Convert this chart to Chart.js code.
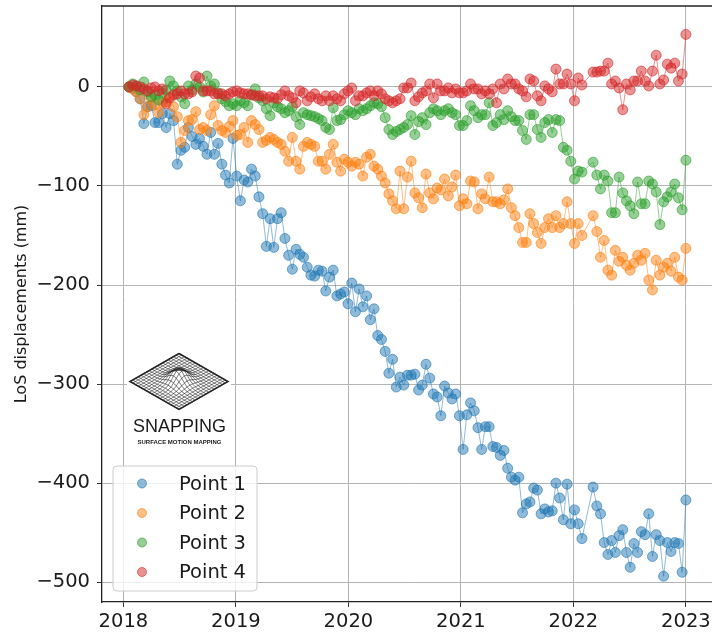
<!DOCTYPE html>
<html>
<head>
<meta charset="utf-8">
<title>LoS displacements</title>
<script src="https://cdn.jsdelivr.net/npm/chart.js@4.4.1/dist/chart.umd.min.js"></script>
<style>
  html, body { margin: 0; padding: 0; background: #fff; overflow: hidden; }
  #wrap { width: 712px; height: 634px; overflow: hidden; }
</style>
</head>
<body>
<div id="wrap"><canvas id="myChart" width="740" height="634"></canvas></div>
<script>
// acquisition dates (decimal years)
const dates = [
  2018.05, 2018.083, 2018.116, 2018.149, 2018.182, 2018.215, 2018.248, 2018.281, 2018.314, 2018.347,
  2018.38, 2018.413, 2018.446, 2018.479, 2018.512, 2018.545, 2018.578, 2018.611, 2018.644, 2018.677,
  2018.71, 2018.743, 2018.776, 2018.809, 2018.842, 2018.875, 2018.908, 2018.941, 2018.974, 2019.007,
  2019.04, 2019.073, 2019.106, 2019.139, 2019.172, 2019.205, 2019.238, 2019.271, 2019.304, 2019.337,
  2019.37, 2019.403, 2019.436, 2019.469, 2019.502, 2019.535, 2019.568, 2019.601, 2019.634, 2019.667,
  2019.70, 2019.733, 2019.766, 2019.799, 2019.832, 2019.865, 2019.898, 2019.931, 2019.964, 2019.997,
  2020.03, 2020.063, 2020.096, 2020.129, 2020.162, 2020.195, 2020.228, 2020.261, 2020.294, 2020.327,
  2020.36, 2020.393, 2020.426, 2020.459, 2020.492, 2020.525, 2020.558, 2020.591, 2020.624, 2020.657,
  2020.69, 2020.723, 2020.756, 2020.789, 2020.822, 2020.855, 2020.888, 2020.921, 2020.954, 2020.987,
  2021.02, 2021.053, 2021.086, 2021.119, 2021.152, 2021.185, 2021.218, 2021.251, 2021.284, 2021.317,
  2021.35, 2021.383, 2021.416, 2021.449, 2021.482, 2021.515, 2021.548, 2021.581, 2021.614, 2021.647,
  2021.68, 2021.713, 2021.746, 2021.779, 2021.812, 2021.845, 2021.878, 2021.911, 2021.944, 2021.977,
  2022.01, 2022.043, 2022.076,
  2022.175, 2022.208, 2022.241, 2022.274, 2022.307, 2022.34, 2022.373, 2022.406, 2022.439, 2022.472,
  2022.505, 2022.538, 2022.571, 2022.604, 2022.637, 2022.67, 2022.703, 2022.736, 2022.769, 2022.802,
  2022.835, 2022.868, 2022.901, 2022.934, 2022.967, 2023.00
];

const point1 = [
  0, -1, -5, -12, -37, -20, -19, -36, -36, -27, -41, -27, -34,
  -78, -64, -61, -41, -50, -58, -52, -60, -68, -46,
  -68, -57, -78, -89, -97, -52, -90, -115, -94, -96,
  -83, -90, -111, -128, -161, -133, -162, -133, -127, -153,
  -170, -184, -164, -169, -172, -182, -190, -191, -185, -186,
  -206, -192, -185, -211, -209, -207, -219, -198, -227, -204,
  -222, -211, -235, -224, -251, -255, -267, -289, -275, -303,
  -293, -301, -291, -291, -290, -306, -301, -280, -294, -310,
  -313, -332, -302, -309, -315, -310, -332, -366, -331, -319,
  -327, -344, -366, -343, -343, -363, -364, -372, -367, -385,
  -394, -397, -394, -430, -421, -419, -405, -407, -431, -426,
  -429, -428, -400, -415, -437, -401, -441, -427, -441, -456,
  -404, -423, -431, -460, -472, -458, -470, -453, -447, -470,
  -485, -461, -470, -449, -452, -431, -474, -452, -458, -494,
  -460, -469, -460, -461, -490, -417
];

const point2 = [
  0, -2, -5, -12, -28, -20, -11, -18, -26, -16, -15, -10, -20,
  -30, -56, -44, -34, -33, -25, -43, -41, -44, -28,
  -19, -39, -44, -46, -40, -34, -49, -48, -41, -56,
  -34, -38, -43, -56, -54, -51, -53, -56, -58, -65,
  -75, -51, -75, -83, -60, -56, -58, -60, -75, -75,
  -83, -68, -58, -76, -85, -73, -76, -80, -76, -78,
  -90, -71, -68, -80, -83, -90, -97, -108, -115, -123,
  -85, -123, -91, -75, -107, -112, -122, -88, -107, -113,
  -102, -104, -93, -110, -101, -89, -120, -113, -118, -95,
  -96, -123, -108, -113, -91, -116, -116, -118, -114, -103,
  -122, -130, -142, -157, -157, -128, -138, -147, -158, -142,
  -133, -142, -130, -142, -138, -116, -138, -158, -138, -150,
  -130, -146, -172, -155, -185, -190, -165, -176, -172, -180,
  -185, -178, -170, -175, -168, -195, -205, -175, -190, -182,
  -178, -186, -172, -192, -195, -163
];

const point3 = [
  0, 3, 1, -3, 5, -5, -10, -8, -13, -6, -3, 6, 1,
  -4, -10, -17, 1, -3, 3, 0, -5, 11, 1,
  3, -6, -12, -15, -19, -17, -19, -14, -16, -19,
  -8, -2, -11, -14, -22, -29, -16, -20, -22, -26,
  -24, -20, -30, -38, -26, -28, -29, -30, -32, -34,
  -41, -43, -21, -34, -33, -28, -24, -26, -28, -22,
  -24, -22, -19, -16, -17, -20, -31, -43, -48, -45,
  -43, -41, -38, -29, -48, -35, -31, -38, -26, -22,
  -24, -28, -24, -22, -26, -28, -39, -39, -34, -19,
  -24, -31, -28, -28, -16, -39, -36, -28, -33, -24,
  -30, -34, -34, -44, -53, -28, -28, -43, -51, -36,
  -33, -46, -33, -34, -61, -64, -75, -93, -85, -86,
  -76, -89, -103, -89, -95, -127, -127, -91, -107, -115,
  -120, -128, -96, -118, -118, -95, -98, -106, -139, -116,
  -111, -106, -98, -112, -124, -74
];

const point4 = [
  0, 2, 1, 0, -2, -4, -1, 0, -4, -2, -17, -11, -8,
  -7, -4, -7, -7, -5, 11, 9, -4, -4, -4,
  -7, -7, -7, -9, -7, -5, -4, -6, -7, -7,
  -8, -9, -9, -9, -12, -10, -11, -12, -8, -4,
  -9, -11, -16, -4, -6, -14, -10, -7, -12, -14,
  -9, -14, -9, -12, -14, -7, -4, -1, -14, -9,
  -9, -6, -4, -9, -4, -7, -12, -14, -16, -14,
  -12, -1, -1, 4, -14, -10, -6, -4, 3, -11,
  3, -4, -4, -1, -6, -2, -6, -6, -4, 3,
  -2, -2, -7, -4, -7, -2, -16, 3, -2, 8,
  3, 3, -2, -4, -10, 8, 6, -9, -14, 1,
  -2, -5, 18, 3, 3, 13, 3, -14, 9, 2,
  15, 15, 16, 16, 24, 3, 6, -1, -23, 3,
  -3, 6, 6, 16, 6, 1, 16, 32, 3, 7,
  23, 19, 24, 6, 13, 53
];

const seriesNames = ["Point 1", "Point 2", "Point 3", "Point 4"];
const seriesValues = [point1, point2, point3, point4];
const seriesColors = ["31,119,180", "255,127,14", "44,160,44", "214,39,40"];
const yearTicks = [2018, 2019, 2020, 2021, 2022, 2023];
const dispTicks = [0, -100, -200, -300, -400, -500];

const FONT = "'DejaVu Sans', sans-serif";
const ctx = document.getElementById("myChart");

const datasets = seriesNames.map((name, k) => ({
  label: name,
  data: dates.map((d, i) => ({ x: d, y: seriesValues[k][i] })),
  borderColor: `rgba(${seriesColors[k]},0.5)`,
  borderWidth: 1,
  pointBackgroundColor: `rgba(${seriesColors[k]},0.5)`,
  pointBorderColor: `rgba(${seriesColors[k]},0.6)`,
  pointBorderWidth: 1,
  pointRadius: 5,
  fill: false,
  tension: 0,
  order: seriesNames.length - k, // later series on top, like matplotlib
}));

// top spine, logo and legend
const decorations = {
  id: "decorations",
  afterDraw(chart) {
    const c = chart.ctx;
    const area = chart.chartArea;
    c.save();

    c.strokeStyle = "#222";
    c.lineWidth = 1.3;
    c.beginPath();
    c.moveTo(area.left, area.top);
    c.lineTo(area.right, area.top);
    c.stroke();

    // logo
    c.fillStyle = "#fff";
    c.fillRect(127, 346, 104, 104);
    const cx = 179, cy = 381.5, hw = 49, hh = 28, n = 18;
    const pt = (u, v) => {
      const b = 13 * Math.exp(-((u - 0.5) ** 2 + (v - 0.5) ** 2) / 0.03);
      return [cx + (u - v) * hw, cy + (u + v - 1) * hh - b];
    };
    c.strokeStyle = "#222";
    c.lineWidth = 0.6;
    for (let a = 0; a <= n; a++) {
      for (let dir = 0; dir < 2; dir++) {
        c.beginPath();
        for (let s = 0; s <= 40; s++) {
          const u = dir ? a / n : s / 40;
          const v = dir ? s / 40 : a / n;
          const [x, y] = pt(u, v);
          if (s === 0) c.moveTo(x, y); else c.lineTo(x, y);
        }
        c.stroke();
      }
    }
    c.lineWidth = 1.5;
    c.beginPath();
    [[0, 0], [1, 0], [1, 1], [0, 1], [0, 0]].forEach(([u, v], i) => {
      const [x, y] = pt(u, v);
      if (i === 0) c.moveTo(x, y); else c.lineTo(x, y);
    });
    c.stroke();
    c.fillStyle = "#1a1a1a";
    c.textAlign = "center";
    c.textBaseline = "middle";
    c.font = "18px 'Liberation Sans', Arial, sans-serif";
    c.fillText("SNAPPING", 179.5, 427);
    c.font = "bold 6px 'Liberation Sans', Arial, sans-serif";
    c.fillText("SURFACE MOTION MAPPING", 179.5, 442);

    // legend
    const bx = 113, by = 466, bw = 144, bh = 125;
    c.beginPath();
    c.roundRect(bx, by, bw, bh, 4);
    c.fillStyle = "rgba(255,255,255,0.8)";
    c.fill();
    c.strokeStyle = "rgba(204,204,204,1)";
    c.lineWidth = 1;
    c.stroke();
    c.textAlign = "left";
    c.font = `19.5px ${FONT}`;
    seriesNames.forEach((name, k) => {
      const y = 483.5 + k * 29.5;
      c.beginPath();
      c.arc(142, y, 4.5, 0, Math.PI * 2);
      c.fillStyle = `rgba(${seriesColors[k]},0.5)`;
      c.fill();
      c.strokeStyle = `rgba(${seriesColors[k]},0.6)`;
      c.stroke();
      c.fillStyle = "#1a1a1a";
      c.fillText(name, 179, y + 1);
    });
    c.restore();
  },
};

const chart = new Chart(ctx, {
  type: "line",
  data: { datasets: datasets },
  options: {
    responsive: false,
    animation: false,
    devicePixelRatio: 1,
    layout: { padding: { top: 5, right: 26, left: 0, bottom: 0 } },
    plugins: { legend: { display: false }, tooltip: { enabled: false } },
    scales: {
      x: {
        type: "linear",
        min: 2017.81,
        max: 2023.25,
        afterBuildTicks: (axis) => { axis.ticks = yearTicks.map((v) => ({ value: v })); },
        afterFit: (axis) => {
          axis.height = 32;
          axis.paddingLeft = 0;
          axis.paddingRight = 0;
        },
        ticks: {
          color: "#1a1a1a",
          font: { family: FONT, size: 19.5 },
          padding: 3,
          maxRotation: 0,
          callback: (v) => String(v),
        },
        grid: { color: "#b4b4b4", lineWidth: 1, tickColor: "#333", tickLength: 5 },
        border: { color: "#222", width: 1.3 },
      },
      y: {
        min: -520,
        max: 81.7,
        afterBuildTicks: (axis) => { axis.ticks = dispTicks.map((v) => ({ value: v })); },
        afterFit: (axis) => {
          axis.width = 102;
          axis.paddingTop = 0;
          axis.paddingBottom = 0;
        },
        ticks: {
          color: "#1a1a1a",
          font: { family: FONT, size: 19.5 },
          padding: 7,
          callback: (v) => (v < 0 ? "\u2212" + Math.abs(v) : String(v)),
        },
        title: {
          display: true,
          text: "LoS displacements (mm)",
          color: "#1a1a1a",
          font: { family: FONT, size: 16 },
          padding: { top: 12, bottom: 0 },
        },
        grid: { color: "#b4b4b4", lineWidth: 1, tickColor: "#333", tickLength: 5 },
        border: { color: "#222", width: 1.3 },
      },
    },
  },
  plugins: [decorations],
});
</script>
</body>
</html>
